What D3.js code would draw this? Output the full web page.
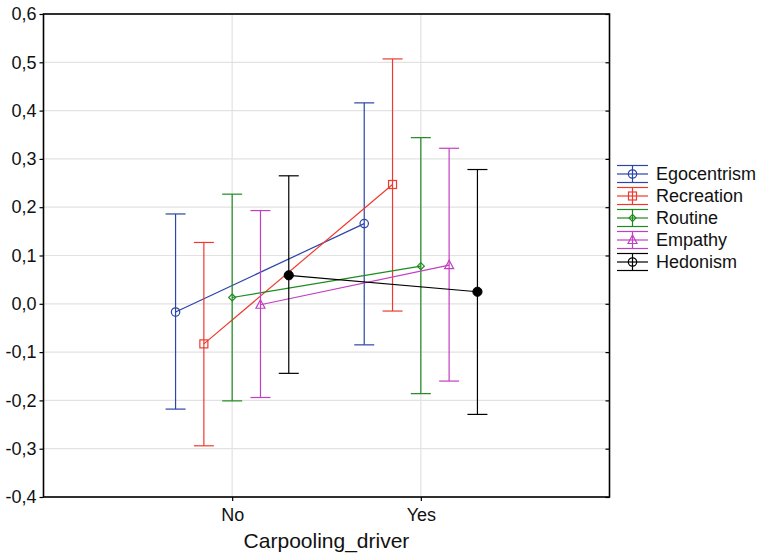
<!DOCTYPE html>
<html>
<head>
<meta charset="utf-8">
<script src="https://cdn.jsdelivr.net/npm/d3@7"></script>
<style>
  html, body { margin: 0; padding: 0; background: #fff; }
  svg { display: block; font-family: Arial, "Liberation Sans", sans-serif; }
</style>
</head>
<body>
<svg id="chart" width="763" height="555"></svg>
<script>
// Categories on the x axis and the plotted groups
const categories = ["No", "Yes"];
const seriesNames = ["Egocentrism", "Recreation", "Routine", "Empathy", "Hedonism"];
const seriesColors = ["#2b45a8", "#ee3a2e", "#1f8a1f", "#c23fc2", "#000000"];
const seriesMarkers = ["circle", "square", "diamond", "triangle", "dot"];

// Means and confidence limits, one value per category (No, Yes)
const egocentrismMean = [-0.017, 0.166];
const egocentrismLow  = [-0.218, -0.085];
const egocentrismHigh = [0.186, 0.416];

const recreationMean = [-0.083, 0.247];
const recreationLow  = [-0.294, -0.015];
const recreationHigh = [0.127, 0.507];

const routineMean = [0.013, 0.078];
const routineLow  = [-0.201, -0.186];
const routineHigh = [0.227, 0.344];

const empathyMean = [-0.002, 0.080];
const empathyLow  = [-0.194, -0.160];
const empathyHigh = [0.193, 0.322];

const hedonismMean = [0.059, 0.025];
const hedonismLow  = [-0.144, -0.229];
const hedonismHigh = [0.265, 0.278];

const yTicks = [-0.4, -0.3, -0.2, -0.1, 0.0, 0.1, 0.2, 0.3, 0.4, 0.5, 0.6];
const xTitle = "Carpooling_driver";

const seriesData = [
  [egocentrismMean, egocentrismLow, egocentrismHigh],
  [recreationMean, recreationLow, recreationHigh],
  [routineMean, routineLow, routineHigh],
  [empathyMean, empathyLow, empathyHigh],
  [hedonismMean, hedonismLow, hedonismHigh]
].map((s, i) => ({
  name: seriesNames[i],
  color: seriesColors[i],
  marker: seriesMarkers[i],
  points: categories.map((c, j) => ({ cat: c, mean: s[0][j], low: s[1][j], high: s[2][j] }))
}));

const svg = d3.select("#chart");
const plot = { left: 43.5, right: 609.5, top: 14, bottom: 497 };

const x = d3.scalePoint().domain(categories).range([plot.left, plot.right]).padding(1);
const y = d3.scaleLinear().domain([-0.4, 0.6]).range([plot.bottom, plot.top]);
const offStep = x.step() * 0.15;
const xOff = d3.scalePoint().domain(seriesNames).range([-2 * offStep, 2 * offStep]);

const locale = d3.formatLocale({ decimal: ",", thousands: ".", grouping: [3], currency: ["", ""], minus: "-" });
const fmt = locale.format(".1f");

// Grid
const grid = svg.append("g");
grid.selectAll("line.h").data(yTicks).join("line")
  .attr("x1", plot.left).attr("x2", plot.right)
  .attr("y1", d => y(d)).attr("y2", d => y(d))
  .attr("stroke", "#e2e2e2").attr("stroke-width", 1.2);
grid.selectAll("line.v").data(categories).join("line")
  .attr("x1", d => x(d)).attr("x2", d => x(d))
  .attr("y1", plot.top).attr("y2", plot.bottom)
  .attr("stroke", "#e2e2e2").attr("stroke-width", 1.2);

// Axes
const yAxis = d3.axisLeft(y).tickValues(yTicks).tickFormat(fmt).tickSize(4).tickPadding(3);
const gy = svg.append("g").attr("transform", `translate(${plot.left},0)`).call(yAxis);
gy.select(".domain").remove();
gy.selectAll(".tick line").attr("stroke", "#000").attr("stroke-width", 1.2);
gy.selectAll(".tick text").attr("font-size", 18).attr("fill", "#111").attr("font-family", "Arial, 'Liberation Sans', sans-serif");

const yAxisR = d3.axisLeft(y).tickValues(yTicks).tickFormat("").tickSize(4);
const gyr = svg.append("g").attr("transform", `translate(${plot.right},0)`).call(yAxisR);
gyr.select(".domain").remove();
gyr.selectAll(".tick line").attr("stroke", "#000").attr("stroke-width", 1.2).attr("x2", -4);

const xAxis = d3.axisBottom(x).tickSize(4).tickPadding(7);
const gx = svg.append("g").attr("transform", `translate(0,${plot.bottom})`).call(xAxis);
gx.select(".domain").remove();
gx.selectAll(".tick line").attr("stroke", "#000").attr("stroke-width", 1.2);
gx.selectAll(".tick text").attr("font-size", 18).attr("fill", "#111").attr("font-family", "Arial, 'Liberation Sans', sans-serif");

// Frame
svg.append("rect")
  .attr("x", plot.left).attr("y", plot.top)
  .attr("width", plot.right - plot.left).attr("height", plot.bottom - plot.top)
  .attr("fill", "none").attr("stroke", "#000").attr("stroke-width", 1.6);

svg.append("text")
  .attr("x", (plot.left + plot.right) / 2).attr("y", 548)
  .attr("text-anchor", "middle").attr("font-size", 21).attr("fill", "#111")
  .text(xTitle);

// Marker drawing
function drawMarker(g, type, cx, cy, color, legend) {
  if (type === "circle" || (type === "dot" && legend)) {
    g.append("circle").attr("cx", cx).attr("cy", cy).attr("r", 4.2)
      .attr("fill", "none").attr("stroke", color).attr("stroke-width", 1.2);
  } else if (type === "dot") {
    g.append("circle").attr("cx", cx).attr("cy", cy).attr("r", 4.6)
      .attr("fill", color).attr("stroke", color);
  } else if (type === "square") {
    g.append("rect").attr("x", cx - 4).attr("y", cy - 4).attr("width", 8).attr("height", 8)
      .attr("fill", "none").attr("stroke", color).attr("stroke-width", 1.2);
  } else if (type === "diamond") {
    g.append("path").attr("d", `M${cx},${cy - 3.5}L${cx + 3.5},${cy}L${cx},${cy + 3.5}L${cx - 3.5},${cy}Z`)
      .attr("fill", "none").attr("stroke", color).attr("stroke-width", 1.2);
  } else if (type === "triangle") {
    g.append("path").attr("d", `M${cx},${cy - 5}L${cx + 4.5},${cy + 3.5}L${cx - 4.5},${cy + 3.5}Z`)
      .attr("fill", "none").attr("stroke", color).attr("stroke-width", 1.2);
  }
}

// Series: error bars, connecting lines, markers
const capHalf = 10;
seriesData.forEach(s => {
  const g = svg.append("g");
  const px = d => x(d.cat) + xOff(s.name);
  g.selectAll("line.bar").data(s.points).join("line")
    .attr("x1", px).attr("x2", px)
    .attr("y1", d => y(d.low)).attr("y2", d => y(d.high))
    .attr("stroke", s.color).attr("stroke-width", 1.2);
  g.selectAll("line.capHi").data(s.points).join("line")
    .attr("x1", d => px(d) - capHalf).attr("x2", d => px(d) + capHalf)
    .attr("y1", d => y(d.high)).attr("y2", d => y(d.high))
    .attr("stroke", s.color).attr("stroke-width", 1.2);
  g.selectAll("line.capLo").data(s.points).join("line")
    .attr("x1", d => px(d) - capHalf).attr("x2", d => px(d) + capHalf)
    .attr("y1", d => y(d.low)).attr("y2", d => y(d.low))
    .attr("stroke", s.color).attr("stroke-width", 1.2);
  g.append("path").datum(s.points)
    .attr("d", d3.line().x(px).y(d => y(d.mean)))
    .attr("fill", "none").attr("stroke", s.color).attr("stroke-width", 1.2);
  s.points.forEach(d => drawMarker(g, s.marker, px(d), y(d.mean), s.color, false));
});

// Legend
const legend = svg.append("g");
const legX = 617, legW = 31, legY0 = 174, legDy = 22;
seriesData.forEach((s, i) => {
  const cy = legY0 + i * legDy;
  const cx = legX + legW / 2;
  const g = legend.append("g");
  [-8.5, 0, 8.5].forEach(dy => {
    g.append("line").attr("x1", legX).attr("x2", legX + legW)
      .attr("y1", cy + dy).attr("y2", cy + dy)
      .attr("stroke", s.color).attr("stroke-width", 1.2);
  });
  g.append("line").attr("x1", cx).attr("x2", cx)
    .attr("y1", cy - 8.5).attr("y2", cy + 8.5)
    .attr("stroke", s.color).attr("stroke-width", 1.2);
  drawMarker(g, s.marker, cx, cy, s.color, true);
  g.append("text").attr("x", 656).attr("y", cy).attr("dy", "0.35em")
    .attr("font-size", 18).attr("fill", "#111").text(s.name);
});
</script>
</body>
</html>
